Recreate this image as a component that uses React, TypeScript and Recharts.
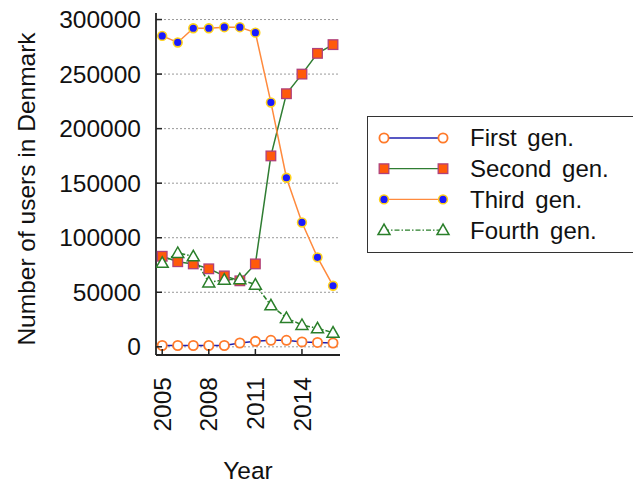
import React from 'react'
import {
  LineChart, Line, XAxis, YAxis, CartesianGrid, Legend, Label
} from 'recharts'

// values
const years = [2005, 2006, 2007, 2008, 2009, 2010, 2011, 2012, 2013, 2014, 2015, 2016]
const firstGen = [1200, 1200, 1200, 1200, 1200, 3500, 5000, 6000, 6000, 4500, 4000, 3500]
const secondGen = [83000, 78000, 76000, 71500, 65000, 60500, 76000, 175000, 232000, 250000, 269000, 277000]
const thirdGen = [285000, 279000, 292000, 292000, 293000, 293000, 288000, 224000, 155000, 114000, 82000, 56000]
const fourthGen = [77000, 86000, 83000, 59000, 61500, 62000, 57000, 38000, 26500, 20000, 17000, 13000]

const xTicks = [2005, 2008, 2011, 2014]
const yTicks = [0, 50000, 100000, 150000, 200000, 250000, 300000]

const seriesNames = ['First gen.', 'Second gen.', 'Third gen.', 'Fourth gen.']

const data = years.map((year, i) => ({
  year,
  first: firstGen[i],
  second: secondGen[i],
  third: thirdGen[i],
  fourth: fourthGen[i],
}))

const FONT = '"Liberation Sans", Arial, sans-serif'
const AXIS_X = 156
const AXIS_Y = 355

type Shape = 'circle' | 'square' | 'dot' | 'triangle'

const Marker = ({ cx, cy, shape }: { cx: number; cy: number; shape: Shape }) => {
  if (cx == null || cy == null) return null
  switch (shape) {
    case 'circle':
      return <circle cx={cx} cy={cy} r={4.6} fill="#fff" stroke="#ff7a2a" strokeWidth={1.8} />
    case 'square':
      return <rect x={cx - 4.8} y={cy - 4.8} width={9.6} height={9.6} fill="#ff5a0a" stroke="#b0407a" strokeWidth={1.3} />
    case 'dot':
      return <circle cx={cx} cy={cy} r={4.4} fill="#1a1aff" stroke="#ffd21a" strokeWidth={1.6} />
    case 'triangle':
      return (
        <polygon
          points={`${cx},${cy - 6} ${cx - 6},${cy + 4.5} ${cx + 6},${cy + 4.5}`}
          fill="#fff" stroke="#2a7f2a" strokeWidth={1.5}
        />
      )
  }
}

const series = [
  { key: 'first', name: seriesNames[0], stroke: '#2020b0', dash: undefined, shape: 'circle' as Shape },
  { key: 'second', name: seriesNames[1], stroke: '#2f7d32', dash: undefined, shape: 'square' as Shape },
  { key: 'third', name: seriesNames[2], stroke: '#ff8a3d', dash: undefined, shape: 'dot' as Shape },
  { key: 'fourth', name: seriesNames[3], stroke: '#2a7f2a', dash: '5 2 1.5 2', shape: 'triangle' as Shape },
]

const YTick = ({ y, payload }: any) => (
  <g>
    <line x1={AXIS_X} x2={AXIS_X + 6} y1={y} y2={y} stroke="#222" strokeWidth={1.5} />
    <text x={141} y={y} dy="0.35em" textAnchor="end" fontSize={24.5} fill="#111" fontFamily={FONT}>
      {payload.value}
    </text>
  </g>
)

const XTick = ({ x, payload }: any) => (
  <g>
    <line x1={x} x2={x} y1={AXIS_Y} y2={AXIS_Y - 6} stroke="#222" strokeWidth={1.5} />
    <text
      x={x} y={377} dy="0.35em" textAnchor="end" fontSize={24.5} fill="#111" fontFamily={FONT}
      transform={`rotate(-90, ${x}, 377)`}
    >
      {payload.value}
    </text>
  </g>
)

const YTitle = () => (
  <text
    x={26} y={189} dy="0.35em" textAnchor="middle" fontSize={24.5} fill="#111" fontFamily={FONT}
    transform="rotate(-90, 26, 189)"
  >
    Number of users in Denmark
  </text>
)

const LegendBox = () => (
  <div style={{
    width: 268, height: 137, border: '1.5px solid #333', boxSizing: 'border-box', background: '#fff',
  }}>
    <svg width={266} height={134}>
      {series.map((s, i) => {
        const cy = 21 + i * 30.7
        return (
          <g key={s.key}>
            <line x1={16} x2={75} y1={cy} y2={cy} stroke={s.stroke} strokeWidth={1.3} strokeDasharray={s.dash} />
            <Marker cx={16} cy={cy} shape={s.shape} />
            <Marker cx={75} cy={cy} shape={s.shape} />
            <text x={102} y={cy} dy="0.35em" fontSize={24} fill="#111" fontFamily={FONT} wordSpacing={4}>
              {s.name}
            </text>
          </g>
        )
      })}
    </svg>
  </div>
)

export default function App() {
  return (
    <div style={{ position: 'absolute', left: 0, top: 0, width: 633, height: 483, background: '#fff' }}>
      <LineChart
        width={633}
        height={483}
        data={data}
        margin={{ top: 13, right: 293, bottom: 0, left: 0 }}
      >
        <CartesianGrid
          vertical={false}
          stroke="#999"
          strokeDasharray="2 2"
          horizontalValues={yTicks}
        />
        <XAxis
          dataKey="year"
          type="number"
          domain={[2004.6, 2016.45]}
          ticks={xTicks}
          allowDataOverflow
          height={128}
          tickLine={false}
          axisLine={{ stroke: '#222', strokeWidth: 1.8 }}
          tick={<XTick />}
          interval={0}
        >
          <Label
            value="Year"
            position="insideBottom"
            offset={4}
            fontSize={24.5}
            fill="#111"
            fontFamily={FONT}
          />
        </XAxis>
        <YAxis
          type="number"
          domain={[-7500, 306000]}
          ticks={yTicks}
          allowDataOverflow
          width={156}
          tickLine={false}
          axisLine={{ stroke: '#222', strokeWidth: 1.8 }}
          tick={<YTick />}
          interval={0}
        >
          <Label content={<YTitle />} />
        </YAxis>
        <Legend
          layout="vertical"
          align="center"
          verticalAlign="middle"
          content={<LegendBox />}
          wrapperStyle={{ position: 'absolute', left: 367, top: 116, width: 268 }}
        />
        {series.map(s => (
          <Line
            key={s.key}
            dataKey={s.key}
            name={s.name}
            type="linear"
            stroke={s.stroke}
            strokeWidth={1.5}
            strokeDasharray={s.dash}
            dot={(p: any) => <Marker key={`${s.key}-${p.index}`} cx={p.cx} cy={p.cy} shape={s.shape} />}
            activeDot={false}
            isAnimationActive={false}
          />
        ))}
      </LineChart>
    </div>
  )
}
